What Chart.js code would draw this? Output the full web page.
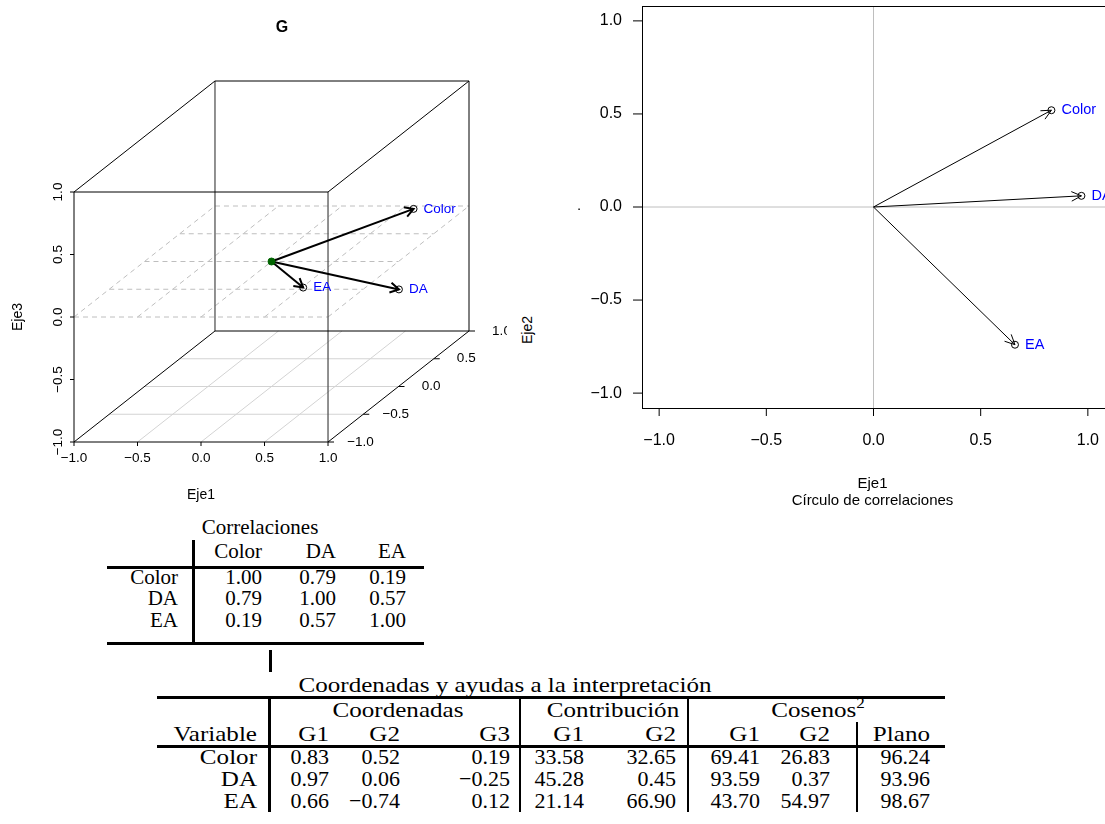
<!DOCTYPE html>
<html>
<head>
<meta charset="utf-8">
<script src="https://cdn.jsdelivr.net/npm/chart.js@4/dist/chart.umd.min.js"></script>
<style>
  body { margin: 0; background: #fff; }
  #page { position: relative; width: 1105px; height: 824px; overflow: hidden; background: #fff; }
  #cube { position: absolute; left: 0; top: 0; }
  #circle { position: absolute; left: 560px; top: 0; }
  .t { position: absolute; font-family: "Liberation Serif", "Times New Roman", serif; font-size: 21px;
       line-height: 1; white-space: nowrap; color: #000; }
  .t2 { font-size: 22px; }
  .t sup { font-size: 15px; vertical-align: 9px; line-height: 0; }
  .s { position: absolute; font-family: "Liberation Sans", Arial, sans-serif; font-size: 14px;
       line-height: 1; white-space: nowrap; color: #000; }
  .rule { position: absolute; background: #000; }
</style>
</head>
<body>
<div id="page">
  <canvas id="cube" width="507" height="510"></canvas>
  <canvas id="circle" width="560" height="510"></canvas>
</div>
<script>
// variables and their results
const variables = ["Color", "DA", "EA"];
const corr = [
  [1.00, 0.79, 0.19],
  [0.79, 1.00, 0.57],
  [0.19, 0.57, 1.00]
];
const g1 = [0.83, 0.97, 0.66];
const g2 = [0.52, 0.06, -0.74];
const g3 = [0.19, -0.25, 0.12];
const contribG1 = [33.58, 45.28, 21.14];
const contribG2 = [32.65, 0.45, 66.90];
const cos2G1 = [69.41, 93.59, 43.70];
const cos2G2 = [26.83, 0.37, 54.97];
const cos2Plano = [96.24, 93.96, 98.67];
const axisTicks = [-1, -0.5, 0, 0.5, 1];

const SANS = '"Liberation Sans", Arial, sans-serif';
const fmt1 = v => (v < 0 ? "\u2212" : "") + Math.abs(v).toFixed(1);
const fmt2 = v => (v < 0 ? "\u2212" : "") + Math.abs(v).toFixed(2);

function strokeLine(ctx, x1, y1, x2, y2) {
  ctx.beginPath(); ctx.moveTo(x1, y1); ctx.lineTo(x2, y2); ctx.stroke();
}
function arrowHead(ctx, x0, y0, x1, y1, len, ang) {
  const a = Math.atan2(y1 - y0, x1 - x0);
  ctx.beginPath();
  ctx.moveTo(x1 - len * Math.cos(a - ang), y1 - len * Math.sin(a - ang));
  ctx.lineTo(x1, y1);
  ctx.lineTo(x1 - len * Math.cos(a + ang), y1 - len * Math.sin(a + ang));
  ctx.stroke();
}

// ---------- 3D view: oblique projection of (Eje1, Eje2, Eje3) ----------
const DEPTH_X = 0.555, DEPTH_Z = 0.444;
function proj(x, y, z) {
  return { x: x + (y + 1) * DEPTH_X, y: z + (y + 1) * DEPTH_Z };
}

const cubeSets = [];
function seg(a, b, color, width, dash, order) {
  cubeSets.push({
    data: [proj(...a), proj(...b)], showLine: true, borderColor: color, borderWidth: width,
    borderDash: dash || [], pointRadius: 0, clip: false, order: order
  });
}
// floor grid
axisTicks.slice(1, -1).forEach(v => {
  seg([-1, v, -1], [1, v, -1], "#d3d3d3", 1, null, 8);
  seg([v, -1, -1], [v, 1, -1], "#d3d3d3", 1, null, 8);
});
// dashed grid on the Eje3 = 0 plane
axisTicks.forEach(v => {
  seg([-1, v, 0], [1, v, 0], "#bebebe", 1, [5, 4], 7);
  seg([v, -1, 0], [v, 1, 0], "#bebebe", 1, [5, 4], 7);
});
// box
[[-1, -1, -1, 1, -1, -1], [-1, -1, 1, 1, -1, 1], [-1, -1, -1, -1, -1, 1],
 [-1, 1, -1, 1, 1, -1], [-1, 1, 1, 1, 1, 1], [1, 1, -1, 1, 1, 1],
 [-1, -1, -1, -1, 1, -1], [1, -1, -1, 1, 1, -1], [-1, -1, 1, -1, 1, 1], [1, -1, 1, 1, 1, 1]]
  .forEach(e => seg(e.slice(0, 3), e.slice(3), "#000", 1, null, 6));
seg([1, -1, -1], [1, -1, 1], "#555", 1.3, null, 6);
seg([-1, 1, -1], [-1, 1, 1], "#555", 1.3, null, 6);
// arrows from the origin
variables.forEach((v, i) => seg([0, 0, 0], [g1[i], g2[i], g3[i]], "#000", 2, null, 2));
cubeSets.push({
  data: variables.map((v, i) => proj(g1[i], g2[i], g3[i])), pointRadius: 3.5,
  pointBorderColor: "#000", pointBackgroundColor: "rgba(0,0,0,0)", pointBorderWidth: 1, clip: false, order: 1
});
cubeSets.push({
  data: [proj(0, 0, 0)], pointRadius: 3.5, pointBorderColor: "#006400",
  pointBackgroundColor: "#006400", clip: false, order: 0
});

const cubeDecor = {
  id: "cubeDecor",
  afterDraw(chart) {
    const { ctx, scales: { x: sx, y: sy } } = chart;
    const P = (x, y, z) => { const p = proj(x, y, z); return [sx.getPixelForValue(p.x), sy.getPixelForValue(p.y)]; };
    ctx.save();
    ctx.strokeStyle = "#000"; ctx.fillStyle = "#000"; ctx.lineWidth = 1;
    ctx.font = "13.5px " + SANS;
    ctx.textAlign = "center"; ctx.textBaseline = "middle";
    axisTicks.forEach(v => {
      let [px, py] = P(v, -1, -1);
      strokeLine(ctx, px, py, px, py + 4);
      ctx.fillText(fmt1(v), px, py + 16);
      [px, py] = P(-1, -1, v);
      strokeLine(ctx, px, py, px - 4, py);
      ctx.save(); ctx.translate(px - 16, py); ctx.rotate(-Math.PI / 2);
      ctx.fillText(fmt1(v), 0, 0); ctx.restore();
      [px, py] = P(1, v, -1);
      strokeLine(ctx, px, py, px + 6, py);
      ctx.fillText(fmt1(v), px + 32.5, py);
    });
    // arrow heads and names
    ctx.lineWidth = 2;
    variables.forEach((name, i) => {
      const [x0, y0] = P(0, 0, 0), [x1, y1] = P(g1[i], g2[i], g3[i]);
      arrowHead(ctx, x0, y0, x1, y1, 10, Math.PI / 6);
      ctx.fillStyle = "#0000ff"; ctx.textAlign = "left";
      ctx.fillText(name, x1 + 10, y1);
    });
    ctx.fillStyle = "#000"; ctx.textAlign = "center";
    ctx.font = "14px " + SANS;
    ctx.fillText("Eje1", 201, 495);
    ctx.save(); ctx.translate(18, 317); ctx.rotate(-Math.PI / 2); ctx.fillText("Eje3", 0, 0); ctx.restore();
    ctx.font = "bold 16px " + SANS;
    ctx.fillText("G", 282, 28);
    ctx.restore();
  }
};

new Chart(document.getElementById("cube"), {
  type: "scatter",
  data: { datasets: cubeSets },
  options: {
    responsive: false, animation: false, events: [],
    layout: { padding: { left: 74, right: 38, top: 81, bottom: 68 } },
    plugins: { legend: { display: false }, tooltip: { enabled: false } },
    scales: {
      x: { type: "linear", min: -1, max: 1 + 2 * DEPTH_X, display: false },
      y: { type: "linear", min: -1, max: 1 + 2 * DEPTH_Z, display: false }
    }
  },
  plugins: [cubeDecor]
});

// ---------- circle of correlations (Eje1 x Eje2) ----------
const LIM = 1.08;
const circleSets = [
  { data: [{ x: -LIM, y: 0 }, { x: LIM, y: 0 }], showLine: true, borderColor: "#bebebe", borderWidth: 1, pointRadius: 0, order: 5 },
  { data: [{ x: 0, y: -LIM }, { x: 0, y: LIM }], showLine: true, borderColor: "#bebebe", borderWidth: 1, pointRadius: 0, order: 5 }
];
variables.forEach((v, i) => circleSets.push({
  data: [{ x: 0, y: 0 }, { x: g1[i], y: g2[i] }], showLine: true, borderColor: "#000",
  borderWidth: 1, pointRadius: 0, clip: false, order: 2
}));
circleSets.push({
  data: variables.map((v, i) => ({ x: g1[i], y: g2[i] })), pointRadius: 3.5, pointBorderColor: "#000",
  pointBackgroundColor: "rgba(0,0,0,0)", pointBorderWidth: 1, clip: false, order: 1
});

const circleDecor = {
  id: "circleDecor",
  afterDraw(chart) {
    const { ctx, chartArea: a, scales: { x: sx, y: sy } } = chart;
    ctx.save();
    ctx.strokeStyle = "#000"; ctx.fillStyle = "#000"; ctx.lineWidth = 1;
    ctx.strokeRect(a.left + 0.5, a.top + 0.5, a.right - a.left, a.bottom - a.top);
    ctx.font = "16px " + SANS;
    ctx.textBaseline = "middle";
    axisTicks.forEach(v => {
      const px = sx.getPixelForValue(v), py = sy.getPixelForValue(v);
      strokeLine(ctx, px, a.bottom, px, a.bottom + 8);
      ctx.textAlign = "center"; ctx.fillText(fmt1(v), px, a.bottom + 33);
      strokeLine(ctx, a.left, py, a.left - 9, py);
      ctx.textAlign = "right"; ctx.fillText(fmt1(v), a.left - 20, py);
    });
    const cx = (a.left + a.right) / 2 - 1;
    ctx.textAlign = "center";
    ctx.font = "15px " + SANS;
    ctx.fillText("Eje1", cx, 484);
    ctx.fillText("C\u00edrculo de correlaciones", cx, 501);
    ctx.fillText(".", 19, 206);
    // arrow heads and names
    ctx.font = "14.5px " + SANS;
    variables.forEach((name, i) => {
      const x0 = sx.getPixelForValue(0), y0 = sy.getPixelForValue(0);
      const x1 = sx.getPixelForValue(g1[i]), y1 = sy.getPixelForValue(g2[i]);
      ctx.strokeStyle = "#000";
      arrowHead(ctx, x0, y0, x1, y1, 11, Math.PI / 7);
      ctx.fillStyle = "#0000ff"; ctx.textAlign = "left";
      ctx.fillText(name, x1 + 10, y1);
    });
    ctx.restore();
  }
};

new Chart(document.getElementById("circle"), {
  type: "scatter",
  data: { datasets: circleSets },
  options: {
    responsive: false, animation: false, events: [],
    layout: { padding: { left: 82, right: 15, top: 6, bottom: 102 } },
    plugins: { legend: { display: false }, tooltip: { enabled: false } },
    scales: {
      x: { type: "linear", min: -LIM, max: LIM, display: false },
      y: { type: "linear", min: -LIM, max: LIM, display: false }
    }
  },
  plugins: [circleDecor]
});

// ---------- tables ----------
const page = document.getElementById("page");
function put(html, x, y, align, cls, stretch) {
  const d = document.createElement("div");
  d.className = cls || "t";
  d.innerHTML = html;
  d.style.left = x + "px"; d.style.top = y + "px";
  const tx = align === "r" ? "-100%" : align === "c" ? "-50%" : "0";
  d.style.transformOrigin = (align === "r" ? "100%" : align === "c" ? "50%" : "0") + " 50%";
  d.style.transform = "translate(" + tx + ", -50%)" + (stretch ? " scaleX(" + stretch + ")" : "");
  page.appendChild(d);
  return d;
}
function rule(x, y, w, h) {
  const d = document.createElement("div");
  d.className = "rule";
  d.style.left = x + "px"; d.style.top = y + "px";
  d.style.width = w + "px"; d.style.height = h + "px";
  page.appendChild(d);
}

const eje2 = put("Eje2", 527, 330, "c", "s");
eje2.style.transform = "translate(-50%, -50%) rotate(-90deg)";

// Correlaciones
const corrCols = [262, 336, 406];
const corrRows = [577, 598, 620];
put("Correlaciones", 260, 527, "c");
variables.forEach((v, j) => put(v, corrCols[j], 551, "r"));
variables.forEach((v, i) => {
  put(v, 178, corrRows[i], "r");
  corr[i].forEach((c, j) => put(fmt2(c), corrCols[j], corrRows[i], "r"));
});
rule(107, 566, 317, 3);
rule(107, 642, 317, 3);
rule(192, 540, 3, 102);
rule(269, 650, 3, 22);

// Coordenadas y ayudas a la interpretación
const T2 = "t t2", WIDE = 1.14;
const cols = [329, 400, 510, 584, 676, 760, 830, 930];
const rows = [757, 779, 801];
put("Coordenadas y ayudas a la interpretaci\u00f3n", 505, 685, "c", T2, WIDE);
rule(157, 696, 788, 3);
put("Coordenadas", 398, 710, "c", T2, WIDE);
put("Contribuci\u00f3n", 613, 710, "c", T2, WIDE);
put("Cosenos<sup>2</sup>", 818, 710, "c", T2, WIDE);
put("Variable", 257, 734, "r", T2, WIDE);
["G1", "G2", "G3", "G1", "G2", "G1", "G2", "Plano"].forEach((h, j) => put(h, cols[j], 734, "r", T2, WIDE));
rule(157, 745, 788, 3);
const tableCols = [g1, g2, g3, contribG1, contribG2, cos2G1, cos2G2, cos2Plano];
variables.forEach((v, i) => {
  put(v, 257, rows[i], "r", T2, WIDE);
  tableCols.forEach((col, j) => put(fmt2(col[i]), cols[j], rows[i], "r", T2));
});
rule(268, 696, 3, 116);
rule(519, 696, 2, 116);
rule(687, 696, 2, 116);
rule(856, 722, 2, 90);
</script>
</body>
</html>
